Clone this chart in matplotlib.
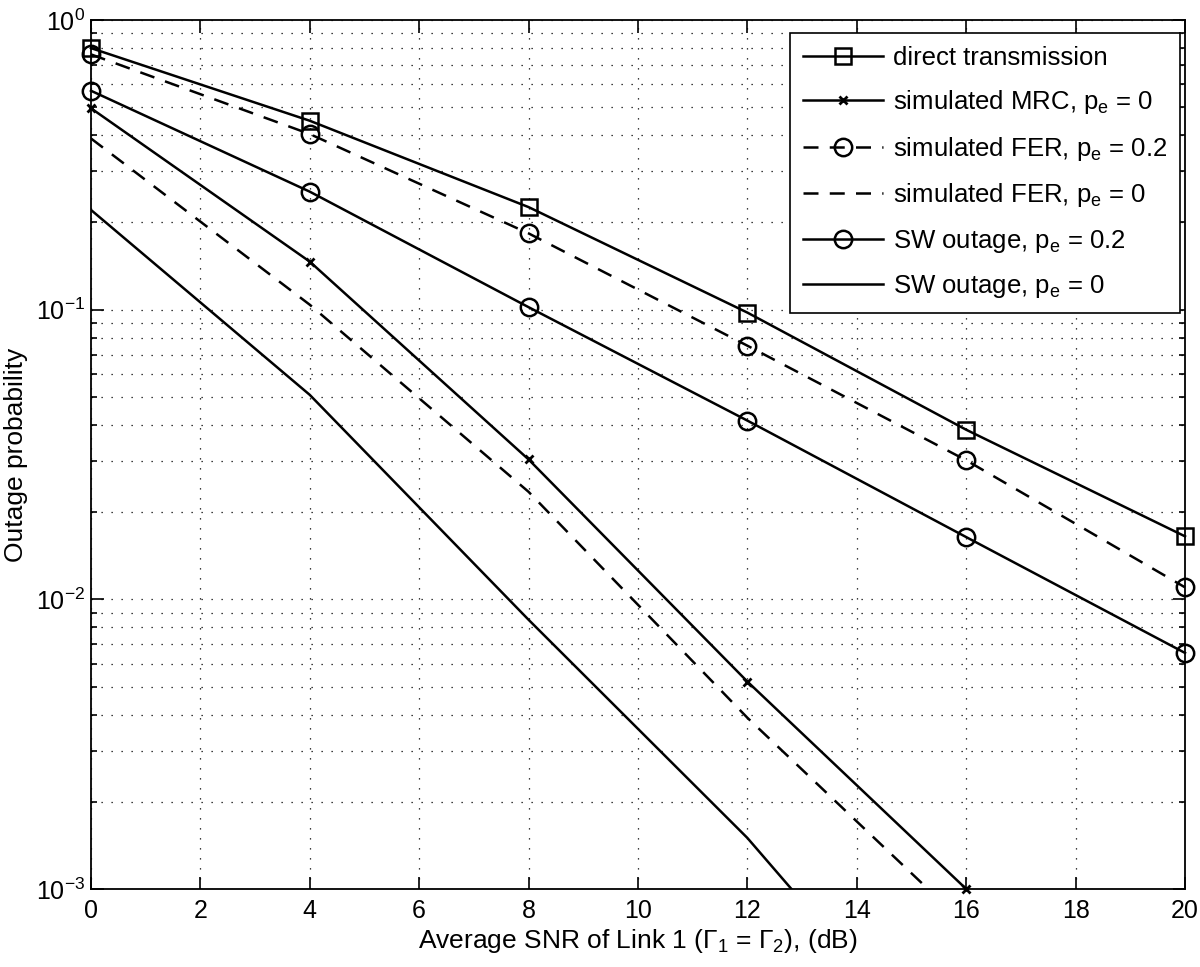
import numpy as np
import matplotlib
matplotlib.use('Agg')
import matplotlib.pyplot as plt
from matplotlib.ticker import LogLocator, NullFormatter

plt.rcParams['font.family'] = ['Liberation Sans', 'DejaVu Sans']
plt.rcParams['mathtext.fontset'] = 'custom'
plt.rcParams['mathtext.rm'] = 'Liberation Sans'
plt.rcParams['mathtext.it'] = 'Liberation Sans:italic'
plt.rcParams['mathtext.default'] = 'regular'

# Datos
snr = [0, 4, 8, 12, 16, 20]
snr_mrc = [0, 4, 8, 12, 16]
snr_fer0 = [0, 4, 8, 12, 16]
snr_sw0 = [0, 4, 8, 12, 16]

direct = [0.80, 0.449, 0.226, 0.0977, 0.0385, 0.0165]
mrc = [0.496, 0.1465, 0.0304, 0.0052, 0.001]
fer_02 = [0.761, 0.404, 0.1834, 0.0751, 0.0302, 0.0110]
fer_0 = [0.39, 0.104, 0.0235, 0.0039, 0.00075]
sw_02 = [0.570, 0.2555, 0.102, 0.0414, 0.0164, 0.00653]
sw_0 = [0.221, 0.0508, 0.0085, 0.0015, 0.0002]

fig = plt.figure(figsize=(12, 9.67), dpi=100)
ax = fig.add_axes([0.0758, 0.0807, 0.9117, 0.8986])

lw = 1.8
dash = (0, (6, 4.5))
ax.plot(snr, direct, '-', color='k', lw=lw, marker='s', ms=12, mfc='none', mew=1.8,
        clip_on=False, label='direct transmission')
ax.plot(snr_mrc, mrc, '-', color='k', lw=lw, marker='x', ms=6, mew=2,
        clip_on=False, label='simulated MRC, p$_e$ = 0')
ax.plot(snr, fer_02, linestyle=dash, color='k', lw=lw, marker='o', ms=12.5, mfc='none', mew=1.8,
        clip_on=False, label='simulated FER, p$_e$ = 0.2')
ax.plot(snr_fer0, fer_0, linestyle=dash, color='k', lw=lw,
        label='simulated FER, p$_e$ = 0')
ax.plot(snr, sw_02, '-', color='k', lw=lw, marker='o', ms=12.5, mfc='none', mew=1.8,
        clip_on=False, label='SW outage, p$_e$ = 0.2')
ax.plot(snr_sw0, sw_0, '-', color='k', lw=lw,
        label='SW outage, p$_e$ = 0')

ax.set_yscale('log')
ax.set_xlim(0, 20)
ax.set_ylim(1e-3, 1)
ax.set_xticks(np.arange(0, 21, 2))
ax.yaxis.set_major_locator(LogLocator(base=10, numticks=10))
ax.yaxis.set_minor_locator(LogLocator(base=10, subs=np.arange(2, 10), numticks=20))
ax.yaxis.set_minor_formatter(NullFormatter())

ax.grid(True, which='major', axis='both', color='k', linestyle=(0, (1, 7)), lw=0.9)
ax.grid(True, which='minor', axis='y', color='k', linestyle=(0, (1, 7)), lw=0.9)

ax.tick_params(which='both', direction='in', top=True, right=True, labelsize=18, width=1.2)
ax.tick_params(which='major', length=9)
ax.tick_params(which='minor', length=4)
ax.tick_params(axis='x', pad=7)
ax.tick_params(axis='y', pad=4)
for s in ax.spines.values():
    s.set_linewidth(1.3)

ax.set_xlabel('Average SNR of Link 1 (Γ$_1$ = Γ$_2$), (dB)', fontsize=19, labelpad=3)
ax.set_ylabel('Outage probability', fontsize=19, labelpad=6)

leg = ax.legend(loc='upper right', bbox_to_anchor=(0.9954, 0.985), borderaxespad=0,
                fontsize=18.5, numpoints=1, handlelength=3.1, handletextpad=0.4,
                borderpad=0.5, labelspacing=0.72, fancybox=False, framealpha=1,
                edgecolor='k')
leg.get_frame().set_linewidth(1.2)

fig.savefig('out.png', dpi=100)
